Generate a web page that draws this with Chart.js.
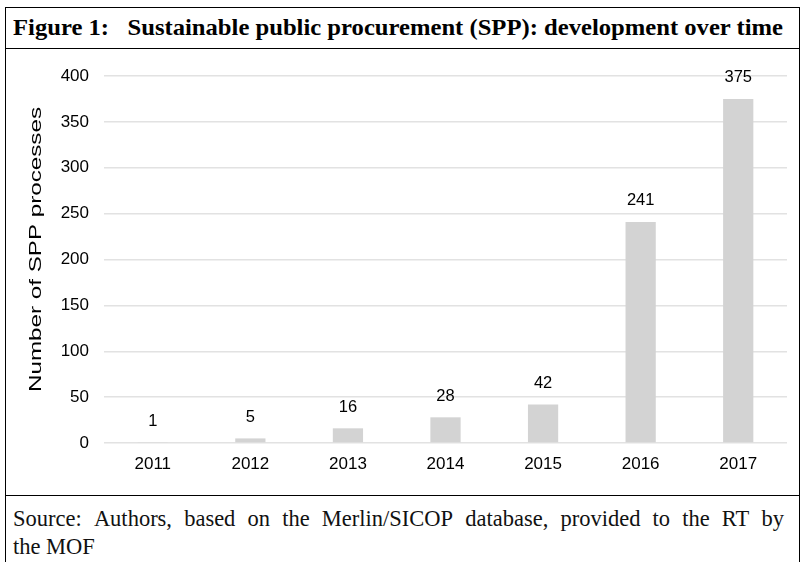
<!DOCTYPE html>
<html><head><meta charset="utf-8">
<script src="https://cdn.jsdelivr.net/npm/chart.js@4/dist/chart.umd.min.js"></script>
<style>
html,body{margin:0;padding:0;background:#fff;}
#wrap{position:absolute;left:5px;top:7px;width:795px;height:555px;border:1.5px solid #000;border-bottom:none;box-sizing:border-box;}
#title{position:absolute;left:0;top:0;width:100%;height:41px;border-bottom:1.5px solid #000;box-sizing:border-box;font-family:"Liberation Serif","Times New Roman",serif;font-weight:bold;font-size:23px;line-height:40px;padding-left:7px;white-space:pre;color:#000;}
#title span{display:inline-block;transform-origin:0 50%;}
#chartBox{position:absolute;left:0;top:41px;width:792px;height:446px;}
#foot{position:absolute;left:0;top:487px;width:100%;height:70px;border-top:1.5px solid #000;box-sizing:border-box;font-family:"Liberation Serif","Times New Roman",serif;font-size:22.5px;line-height:28px;padding:9px 0 0 7px;color:#111;}
#l1{width:771px;white-space:nowrap;}
</style></head><body>
<div id="wrap">
<div id="title"><span id="tt">Figure 1:   Sustainable public procurement (SPP): development over time</span></div>
<div id="chartBox"><canvas id="c"></canvas></div>
<div id="foot"><div id="l1"><span id="ft">Source: Authors, based on the Merlin/SICOP database, provided to the RT by</span></div><div>the MOF</div></div>
</div>
<script>
const years = ["2011","2012","2013","2014","2015","2016","2017"];
const sppProcesses = [1, 5, 16, 28, 42, 241, 375];
const yTicks = [0, 50, 100, 150, 200, 250, 300, 350, 400];
const yTitle = 'Number of SPP processes';

(function(){
  const t = document.getElementById('tt');
  const w = t.getBoundingClientRect().width;
  t.style.transform = 'scaleX(' + (770 / w) + ')';
  const f = document.getElementById('ft');
  const words = f.textContent.split(' ');
  f.style.display = 'flex';
  f.style.justifyContent = 'space-between';
  f.style.width = '771px';
  f.innerHTML = words.map(x => '<span>' + x + '</span>').join('');
})();

const FONT = '"Liberation Sans", Arial, sans-serif';

const valueLabels = {
  id: 'valueLabels',
  afterDatasetsDraw(chart) {
    const ctx = chart.ctx;
    const meta = chart.getDatasetMeta(0);
    ctx.save();
    ctx.fillStyle = '#000';
    ctx.font = '16.5px ' + FONT;
    ctx.textAlign = 'center';
    ctx.textBaseline = 'middle';
    meta.data.forEach((bar, i) => {
      ctx.fillText(String(sppProcesses[i]), bar.x, bar.y - 21);
    });
    ctx.restore();
  }
};

const stretchedYTitle = {
  id: 'stretchedYTitle',
  afterDraw(chart) {
    const ctx = chart.ctx;
    const ca = chart.chartArea;
    ctx.save();
    ctx.font = '17px ' + FONT;
    const w = ctx.measureText(yTitle).width;
    ctx.translate(30, (ca.top + ca.bottom) / 2 - 10);
    ctx.rotate(-Math.PI / 2);
    ctx.scale(285 / w, 1);
    ctx.fillStyle = '#000';
    ctx.textAlign = 'center';
    ctx.textBaseline = 'middle';
    ctx.fillText(yTitle, 0, 0);
    ctx.restore();
  }
};

new Chart(document.getElementById('c'), {
  type: 'bar',
  data: { labels: years, datasets: [{ data: sppProcesses, backgroundColor: '#d3d3d3', borderWidth: 0, categoryPercentage: 1, barPercentage: 0.31 }] },
  options: {
    responsive: true, maintainAspectRatio: false, animation: false,
    layout: { padding: { top: 27, right: 11, left: 0, bottom: 0 } },
    plugins: { legend: { display: false }, tooltip: { enabled: false } },
    scales: {
      x: {
        grid: { display: false, drawTicks: false },
        border: { display: false },
        ticks: { color: '#000', font: { family: FONT, size: 17 }, padding: 11 },
        afterFit(s) { s.height = 52; }
      },
      y: {
        min: 0, max: 400,
        afterBuildTicks(s) { s.ticks = yTicks.map(v => ({ value: v })); },
        grid: { color: '#e2e2e2', lineWidth: 1.5, drawTicks: false },
        border: { display: false },
        ticks: { color: '#000', font: { family: FONT, size: 17 }, padding: 15 },
        afterFit(s) { s.width = 98; }
      }
    }
  },
  plugins: [valueLabels, stretchedYTitle]
});
</script>
</body></html>
